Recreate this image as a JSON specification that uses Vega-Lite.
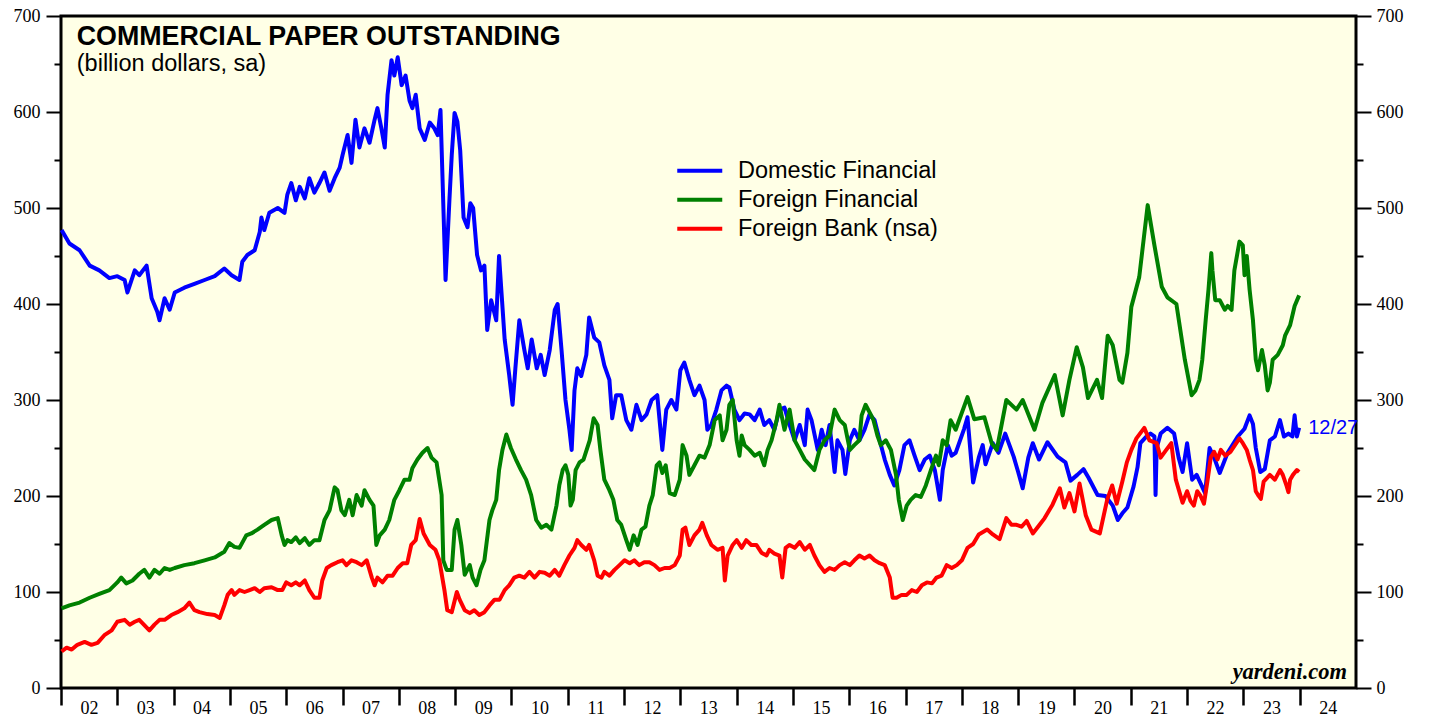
{
"$schema": "https://vega.github.io/schema/vega-lite/v6.json",
"width": 1295, "height": 672,
"autosize": {"type": "none"},
"padding": {"left": 61, "top": 16, "right": 73, "bottom": 29},
"background": "#FFFFFF",
"config": {
  "view": {"fill": "#FFFFE6", "stroke": "#000000", "strokeWidth": 3},
  "axis": {"grid": false, "domain": false, "title": null, "labelFont": "Liberation Serif", "labelFontSize": 18, "labelColor": "#000000", "tickColor": "#000000"}
},
"datasets": {
"notes": [
{"k":"t","t":2002.28,"v":670,"txt":"COMMERCIAL PAPER OUTSTANDING"},
{"k":"s","t":2002.28,"v":642.5,"txt":"(billion dollars, sa)"},
{"k":"d","t":2024.15,"v":271,"txt":"12/27"},
{"k":"y","t":2024.84,"v":9.4,"txt":"yardeni.com"}
],
"cp": [
{"t":2002.01,"s":"D","v":477},{"t":2002.15,"s":"D","v":463},{"t":2002.33,"s":"D","v":456},{"t":2002.51,"s":"D","v":440},{"t":2002.68,"s":"D","v":435},{"t":2002.86,"s":"D","v":427},{"t":2003.00,"s":"D","v":429},{"t":2003.13,"s":"D","v":425},{"t":2003.18,"s":"D","v":412},{"t":2003.31,"s":"D","v":435},{"t":2003.39,"s":"D","v":430},{"t":2003.52,"s":"D","v":440},{"t":2003.61,"s":"D","v":406},{"t":2003.71,"s":"D","v":392},{"t":2003.75,"s":"D","v":383},{"t":2003.84,"s":"D","v":406},{"t":2003.93,"s":"D","v":394},{"t":2004.02,"s":"D","v":412},{"t":2004.19,"s":"D","v":417},{"t":2004.37,"s":"D","v":421},{"t":2004.55,"s":"D","v":425},{"t":2004.73,"s":"D","v":429},{"t":2004.90,"s":"D","v":437},{"t":2005.03,"s":"D","v":430},{"t":2005.17,"s":"D","v":425},{"t":2005.22,"s":"D","v":444},{"t":2005.31,"s":"D","v":451},{"t":2005.44,"s":"D","v":456},{"t":2005.53,"s":"D","v":475},{"t":2005.56,"s":"D","v":490},{"t":2005.61,"s":"D","v":477},{"t":2005.70,"s":"D","v":495},{"t":2005.85,"s":"D","v":500},{"t":2005.97,"s":"D","v":495},{"t":2006.02,"s":"D","v":514},{"t":2006.09,"s":"D","v":526},{"t":2006.17,"s":"D","v":508},{"t":2006.24,"s":"D","v":522},{"t":2006.33,"s":"D","v":510},{"t":2006.41,"s":"D","v":531},{"t":2006.50,"s":"D","v":516},{"t":2006.59,"s":"D","v":526},{"t":2006.68,"s":"D","v":537},{"t":2006.77,"s":"D","v":518},{"t":2006.86,"s":"D","v":531},{"t":2006.95,"s":"D","v":542},{"t":2007.00,"s":"D","v":555},{"t":2007.09,"s":"D","v":576},{"t":2007.16,"s":"D","v":547},{"t":2007.23,"s":"D","v":592},{"t":2007.30,"s":"D","v":563},{"t":2007.39,"s":"D","v":583},{"t":2007.48,"s":"D","v":568},{"t":2007.57,"s":"D","v":592},{"t":2007.62,"s":"D","v":604},{"t":2007.69,"s":"D","v":583},{"t":2007.75,"s":"D","v":563},{"t":2007.80,"s":"D","v":618},{"t":2007.87,"s":"D","v":654},{"t":2007.92,"s":"D","v":638},{"t":2007.98,"s":"D","v":657},{"t":2008.05,"s":"D","v":628},{"t":2008.12,"s":"D","v":638},{"t":2008.19,"s":"D","v":612},{"t":2008.24,"s":"D","v":604},{"t":2008.30,"s":"D","v":618},{"t":2008.37,"s":"D","v":583},{"t":2008.46,"s":"D","v":571},{"t":2008.55,"s":"D","v":589},{"t":2008.63,"s":"D","v":583},{"t":2008.69,"s":"D","v":576},{"t":2008.74,"s":"D","v":602},{"t":2008.83,"s":"D","v":425},{"t":2008.90,"s":"D","v":510},{"t":2008.94,"s":"D","v":555},{"t":2008.99,"s":"D","v":599},{"t":2009.04,"s":"D","v":590},{"t":2009.09,"s":"D","v":560},{"t":2009.15,"s":"D","v":490},{"t":2009.22,"s":"D","v":480},{"t":2009.27,"s":"D","v":505},{"t":2009.32,"s":"D","v":500},{"t":2009.39,"s":"D","v":451},{"t":2009.46,"s":"D","v":435},{"t":2009.52,"s":"D","v":440},{"t":2009.57,"s":"D","v":373},{"t":2009.64,"s":"D","v":404},{"t":2009.73,"s":"D","v":383},{"t":2009.78,"s":"D","v":450},{"t":2009.82,"s":"D","v":415},{"t":2009.88,"s":"D","v":363},{"t":2009.96,"s":"D","v":326},{"t":2010.02,"s":"D","v":295},{"t":2010.07,"s":"D","v":333},{"t":2010.14,"s":"D","v":383},{"t":2010.23,"s":"D","v":352},{"t":2010.29,"s":"D","v":333},{"t":2010.36,"s":"D","v":363},{"t":2010.45,"s":"D","v":333},{"t":2010.52,"s":"D","v":347},{"t":2010.59,"s":"D","v":326},{"t":2010.68,"s":"D","v":352},{"t":2010.77,"s":"D","v":394},{"t":2010.82,"s":"D","v":400},{"t":2010.89,"s":"D","v":352},{"t":2010.96,"s":"D","v":300},{"t":2011.03,"s":"D","v":269},{"t":2011.07,"s":"D","v":248},{"t":2011.12,"s":"D","v":310},{"t":2011.17,"s":"D","v":333},{"t":2011.24,"s":"D","v":325},{"t":2011.33,"s":"D","v":347},{"t":2011.38,"s":"D","v":386},{"t":2011.47,"s":"D","v":365},{"t":2011.56,"s":"D","v":360},{"t":2011.65,"s":"D","v":336},{"t":2011.74,"s":"D","v":321},{"t":2011.79,"s":"D","v":281},{"t":2011.86,"s":"D","v":305},{"t":2011.95,"s":"D","v":305},{"t":2012.04,"s":"D","v":279},{"t":2012.13,"s":"D","v":269},{"t":2012.22,"s":"D","v":295},{"t":2012.31,"s":"D","v":279},{"t":2012.40,"s":"D","v":285},{"t":2012.49,"s":"D","v":300},{"t":2012.59,"s":"D","v":305},{"t":2012.68,"s":"D","v":248},{"t":2012.75,"s":"D","v":290},{"t":2012.84,"s":"D","v":300},{"t":2012.93,"s":"D","v":290},{"t":2013.00,"s":"D","v":331},{"t":2013.07,"s":"D","v":339},{"t":2013.16,"s":"D","v":321},{"t":2013.25,"s":"D","v":305},{"t":2013.34,"s":"D","v":315},{"t":2013.43,"s":"D","v":300},{"t":2013.48,"s":"D","v":269},{"t":2013.55,"s":"D","v":274},{"t":2013.64,"s":"D","v":290},{"t":2013.73,"s":"D","v":310},{"t":2013.82,"s":"D","v":315},{"t":2013.87,"s":"D","v":313},{"t":2013.96,"s":"D","v":290},{"t":2014.05,"s":"D","v":279},{"t":2014.14,"s":"D","v":286},{"t":2014.23,"s":"D","v":285},{"t":2014.32,"s":"D","v":279},{"t":2014.41,"s":"D","v":290},{"t":2014.49,"s":"D","v":274},{"t":2014.58,"s":"D","v":279},{"t":2014.67,"s":"D","v":269},{"t":2014.76,"s":"D","v":290},{"t":2014.85,"s":"D","v":292},{"t":2014.94,"s":"D","v":274},{"t":2015.03,"s":"D","v":258},{"t":2015.12,"s":"D","v":274},{"t":2015.21,"s":"D","v":253},{"t":2015.26,"s":"D","v":290},{"t":2015.33,"s":"D","v":279},{"t":2015.44,"s":"D","v":248},{"t":2015.51,"s":"D","v":269},{"t":2015.58,"s":"D","v":253},{"t":2015.65,"s":"D","v":274},{"t":2015.74,"s":"D","v":225},{"t":2015.79,"s":"D","v":258},{"t":2015.88,"s":"D","v":248},{"t":2015.93,"s":"D","v":223},{"t":2016.01,"s":"D","v":258},{"t":2016.09,"s":"D","v":269},{"t":2016.18,"s":"D","v":258},{"t":2016.27,"s":"D","v":269},{"t":2016.36,"s":"D","v":285},{"t":2016.45,"s":"D","v":279},{"t":2016.54,"s":"D","v":258},{"t":2016.63,"s":"D","v":238},{"t":2016.72,"s":"D","v":222},{"t":2016.80,"s":"D","v":211},{"t":2016.89,"s":"D","v":227},{"t":2016.98,"s":"D","v":253},{"t":2017.07,"s":"D","v":258},{"t":2017.16,"s":"D","v":242},{"t":2017.25,"s":"D","v":227},{"t":2017.34,"s":"D","v":238},{"t":2017.43,"s":"D","v":242},{"t":2017.52,"s":"D","v":227},{"t":2017.61,"s":"D","v":196},{"t":2017.66,"s":"D","v":227},{"t":2017.75,"s":"D","v":253},{"t":2017.82,"s":"D","v":242},{"t":2017.89,"s":"D","v":245},{"t":2018.04,"s":"D","v":270},{"t":2018.10,"s":"D","v":282},{"t":2018.20,"s":"D","v":214},{"t":2018.30,"s":"D","v":240},{"t":2018.37,"s":"D","v":253},{"t":2018.42,"s":"D","v":233},{"t":2018.55,"s":"D","v":255},{"t":2018.65,"s":"D","v":245},{"t":2018.77,"s":"D","v":265},{"t":2018.92,"s":"D","v":241},{"t":2019.00,"s":"D","v":225},{"t":2019.08,"s":"D","v":208},{"t":2019.18,"s":"D","v":240},{"t":2019.26,"s":"D","v":255},{"t":2019.37,"s":"D","v":238},{"t":2019.52,"s":"D","v":256},{"t":2019.70,"s":"D","v":241},{"t":2019.84,"s":"D","v":235},{"t":2019.93,"s":"D","v":216},{"t":2020.05,"s":"D","v":222},{"t":2020.16,"s":"D","v":228},{"t":2020.25,"s":"D","v":219},{"t":2020.41,"s":"D","v":201},{"t":2020.55,"s":"D","v":200},{"t":2020.68,"s":"D","v":190},{"t":2020.77,"s":"D","v":175},{"t":2020.85,"s":"D","v":182},{"t":2020.94,"s":"D","v":188},{"t":2021.05,"s":"D","v":210},{"t":2021.12,"s":"D","v":230},{"t":2021.17,"s":"D","v":255},{"t":2021.28,"s":"D","v":262},{"t":2021.35,"s":"D","v":265},{"t":2021.42,"s":"D","v":262},{"t":2021.44,"s":"D","v":201},{"t":2021.46,"s":"D","v":250},{"t":2021.53,"s":"D","v":265},{"t":2021.65,"s":"D","v":271},{"t":2021.77,"s":"D","v":265},{"t":2021.85,"s":"D","v":240},{"t":2021.92,"s":"D","v":225},{"t":2022.00,"s":"D","v":255},{"t":2022.09,"s":"D","v":217},{"t":2022.17,"s":"D","v":222},{"t":2022.32,"s":"D","v":203},{"t":2022.40,"s":"D","v":250},{"t":2022.48,"s":"D","v":240},{"t":2022.58,"s":"D","v":224},{"t":2022.72,"s":"D","v":245},{"t":2022.90,"s":"D","v":262},{"t":2023.02,"s":"D","v":270},{"t":2023.11,"s":"D","v":284},{"t":2023.17,"s":"D","v":275},{"t":2023.22,"s":"D","v":250},{"t":2023.30,"s":"D","v":225},{"t":2023.38,"s":"D","v":228},{"t":2023.47,"s":"D","v":258},{"t":2023.56,"s":"D","v":262},{"t":2023.65,"s":"D","v":279},{"t":2023.72,"s":"D","v":262},{"t":2023.80,"s":"D","v":265},{"t":2023.87,"s":"D","v":262},{"t":2023.91,"s":"D","v":284},{"t":2023.95,"s":"D","v":262},{"t":2023.99,"s":"D","v":271},
{"t":2002.01,"s":"F","v":83},{"t":2002.15,"s":"F","v":86},{"t":2002.33,"s":"F","v":89},{"t":2002.51,"s":"F","v":94},{"t":2002.68,"s":"F","v":98},{"t":2002.86,"s":"F","v":102},{"t":2003.00,"s":"F","v":110},{"t":2003.07,"s":"F","v":115},{"t":2003.16,"s":"F","v":109},{"t":2003.27,"s":"F","v":112},{"t":2003.39,"s":"F","v":119},{"t":2003.48,"s":"F","v":123},{"t":2003.57,"s":"F","v":115},{"t":2003.66,"s":"F","v":123},{"t":2003.75,"s":"F","v":119},{"t":2003.84,"s":"F","v":125},{"t":2003.93,"s":"F","v":123},{"t":2004.02,"s":"F","v":125},{"t":2004.19,"s":"F","v":128},{"t":2004.37,"s":"F","v":130},{"t":2004.55,"s":"F","v":133},{"t":2004.73,"s":"F","v":136},{"t":2004.90,"s":"F","v":142},{"t":2004.99,"s":"F","v":151},{"t":2005.08,"s":"F","v":147},{"t":2005.17,"s":"F","v":146},{"t":2005.29,"s":"F","v":159},{"t":2005.38,"s":"F","v":161},{"t":2005.49,"s":"F","v":165},{"t":2005.61,"s":"F","v":170},{"t":2005.74,"s":"F","v":175},{"t":2005.85,"s":"F","v":177},{"t":2005.92,"s":"F","v":159},{"t":2005.97,"s":"F","v":149},{"t":2006.02,"s":"F","v":154},{"t":2006.09,"s":"F","v":152},{"t":2006.17,"s":"F","v":157},{"t":2006.24,"s":"F","v":151},{"t":2006.33,"s":"F","v":156},{"t":2006.41,"s":"F","v":149},{"t":2006.50,"s":"F","v":154},{"t":2006.59,"s":"F","v":154},{"t":2006.68,"s":"F","v":175},{"t":2006.77,"s":"F","v":185},{"t":2006.86,"s":"F","v":209},{"t":2006.91,"s":"F","v":206},{"t":2006.98,"s":"F","v":185},{"t":2007.04,"s":"F","v":180},{"t":2007.12,"s":"F","v":196},{"t":2007.18,"s":"F","v":180},{"t":2007.25,"s":"F","v":201},{"t":2007.34,"s":"F","v":190},{"t":2007.39,"s":"F","v":206},{"t":2007.48,"s":"F","v":196},{"t":2007.55,"s":"F","v":190},{"t":2007.60,"s":"F","v":149},{"t":2007.66,"s":"F","v":159},{"t":2007.75,"s":"F","v":165},{"t":2007.83,"s":"F","v":175},{"t":2007.92,"s":"F","v":196},{"t":2008.01,"s":"F","v":206},{"t":2008.10,"s":"F","v":217},{"t":2008.19,"s":"F","v":217},{"t":2008.24,"s":"F","v":229},{"t":2008.33,"s":"F","v":238},{"t":2008.42,"s":"F","v":245},{"t":2008.51,"s":"F","v":250},{"t":2008.58,"s":"F","v":240},{"t":2008.67,"s":"F","v":235},{"t":2008.76,"s":"F","v":201},{"t":2008.79,"s":"F","v":133},{"t":2008.85,"s":"F","v":123},{"t":2008.94,"s":"F","v":123},{"t":2008.99,"s":"F","v":165},{"t":2009.04,"s":"F","v":175},{"t":2009.11,"s":"F","v":149},{"t":2009.17,"s":"F","v":118},{"t":2009.26,"s":"F","v":128},{"t":2009.31,"s":"F","v":115},{"t":2009.38,"s":"F","v":107},{"t":2009.45,"s":"F","v":123},{"t":2009.52,"s":"F","v":133},{"t":2009.61,"s":"F","v":175},{"t":2009.66,"s":"F","v":185},{"t":2009.73,"s":"F","v":196},{"t":2009.78,"s":"F","v":227},{"t":2009.84,"s":"F","v":248},{"t":2009.91,"s":"F","v":264},{"t":2009.99,"s":"F","v":250},{"t":2010.08,"s":"F","v":238},{"t":2010.17,"s":"F","v":227},{"t":2010.26,"s":"F","v":217},{"t":2010.35,"s":"F","v":201},{"t":2010.44,"s":"F","v":175},{"t":2010.53,"s":"F","v":167},{"t":2010.62,"s":"F","v":170},{"t":2010.71,"s":"F","v":165},{"t":2010.80,"s":"F","v":190},{"t":2010.85,"s":"F","v":211},{"t":2010.91,"s":"F","v":227},{"t":2010.96,"s":"F","v":232},{"t":2011.01,"s":"F","v":222},{"t":2011.05,"s":"F","v":190},{"t":2011.09,"s":"F","v":196},{"t":2011.14,"s":"F","v":227},{"t":2011.21,"s":"F","v":235},{"t":2011.28,"s":"F","v":238},{"t":2011.39,"s":"F","v":258},{"t":2011.46,"s":"F","v":281},{"t":2011.53,"s":"F","v":274},{"t":2011.58,"s":"F","v":248},{"t":2011.65,"s":"F","v":217},{"t":2011.74,"s":"F","v":206},{"t":2011.81,"s":"F","v":196},{"t":2011.88,"s":"F","v":175},{"t":2011.95,"s":"F","v":170},{"t":2012.04,"s":"F","v":154},{"t":2012.10,"s":"F","v":144},{"t":2012.17,"s":"F","v":159},{"t":2012.24,"s":"F","v":149},{"t":2012.31,"s":"F","v":165},{"t":2012.38,"s":"F","v":168},{"t":2012.45,"s":"F","v":190},{"t":2012.51,"s":"F","v":201},{"t":2012.58,"s":"F","v":232},{"t":2012.63,"s":"F","v":235},{"t":2012.68,"s":"F","v":224},{"t":2012.74,"s":"F","v":232},{"t":2012.81,"s":"F","v":203},{"t":2012.90,"s":"F","v":201},{"t":2012.99,"s":"F","v":217},{"t":2013.04,"s":"F","v":253},{"t":2013.11,"s":"F","v":242},{"t":2013.16,"s":"F","v":222},{"t":2013.25,"s":"F","v":232},{"t":2013.34,"s":"F","v":242},{"t":2013.43,"s":"F","v":240},{"t":2013.52,"s":"F","v":253},{"t":2013.61,"s":"F","v":279},{"t":2013.70,"s":"F","v":284},{"t":2013.75,"s":"F","v":258},{"t":2013.82,"s":"F","v":269},{"t":2013.87,"s":"F","v":295},{"t":2013.93,"s":"F","v":300},{"t":2014.00,"s":"F","v":258},{"t":2014.05,"s":"F","v":242},{"t":2014.09,"s":"F","v":263},{"t":2014.14,"s":"F","v":253},{"t":2014.23,"s":"F","v":248},{"t":2014.32,"s":"F","v":242},{"t":2014.41,"s":"F","v":245},{"t":2014.49,"s":"F","v":232},{"t":2014.55,"s":"F","v":248},{"t":2014.62,"s":"F","v":258},{"t":2014.71,"s":"F","v":279},{"t":2014.76,"s":"F","v":295},{"t":2014.85,"s":"F","v":269},{"t":2014.94,"s":"F","v":290},{"t":2015.03,"s":"F","v":258},{"t":2015.12,"s":"F","v":248},{"t":2015.21,"s":"F","v":238},{"t":2015.38,"s":"F","v":227},{"t":2015.47,"s":"F","v":248},{"t":2015.56,"s":"F","v":258},{"t":2015.65,"s":"F","v":263},{"t":2015.74,"s":"F","v":290},{"t":2015.83,"s":"F","v":279},{"t":2015.92,"s":"F","v":274},{"t":2016.01,"s":"F","v":248},{"t":2016.09,"s":"F","v":253},{"t":2016.18,"s":"F","v":258},{"t":2016.22,"s":"F","v":284},{"t":2016.29,"s":"F","v":295},{"t":2016.38,"s":"F","v":285},{"t":2016.43,"s":"F","v":279},{"t":2016.50,"s":"F","v":263},{"t":2016.56,"s":"F","v":253},{"t":2016.65,"s":"F","v":258},{"t":2016.74,"s":"F","v":248},{"t":2016.83,"s":"F","v":222},{"t":2016.88,"s":"F","v":196},{"t":2016.95,"s":"F","v":175},{"t":2017.02,"s":"F","v":190},{"t":2017.09,"s":"F","v":196},{"t":2017.18,"s":"F","v":201},{"t":2017.27,"s":"F","v":199},{"t":2017.36,"s":"F","v":211},{"t":2017.45,"s":"F","v":227},{"t":2017.54,"s":"F","v":242},{"t":2017.59,"s":"F","v":232},{"t":2017.66,"s":"F","v":258},{"t":2017.73,"s":"F","v":253},{"t":2017.80,"s":"F","v":279},{"t":2017.89,"s":"F","v":269},{"t":2018.10,"s":"F","v":303},{"t":2018.22,"s":"F","v":280},{"t":2018.40,"s":"F","v":282},{"t":2018.53,"s":"F","v":255},{"t":2018.62,"s":"F","v":248},{"t":2018.79,"s":"F","v":300},{"t":2018.97,"s":"F","v":290},{"t":2019.08,"s":"F","v":300},{"t":2019.29,"s":"F","v":269},{"t":2019.43,"s":"F","v":297},{"t":2019.65,"s":"F","v":326},{"t":2019.79,"s":"F","v":284},{"t":2019.91,"s":"F","v":321},{"t":2020.04,"s":"F","v":355},{"t":2020.15,"s":"F","v":334},{"t":2020.24,"s":"F","v":302},{"t":2020.40,"s":"F","v":321},{"t":2020.49,"s":"F","v":302},{"t":2020.59,"s":"F","v":367},{"t":2020.68,"s":"F","v":357},{"t":2020.80,"s":"F","v":321},{"t":2020.85,"s":"F","v":318},{"t":2020.94,"s":"F","v":349},{"t":2021.01,"s":"F","v":397},{"t":2021.15,"s":"F","v":428},{"t":2021.30,"s":"F","v":503},{"t":2021.42,"s":"F","v":461},{"t":2021.55,"s":"F","v":418},{"t":2021.65,"s":"F","v":407},{"t":2021.81,"s":"F","v":400},{"t":2021.96,"s":"F","v":342},{"t":2022.08,"s":"F","v":305},{"t":2022.15,"s":"F","v":310},{"t":2022.22,"s":"F","v":321},{"t":2022.27,"s":"F","v":342},{"t":2022.33,"s":"F","v":383},{"t":2022.38,"s":"F","v":415},{"t":2022.43,"s":"F","v":453},{"t":2022.45,"s":"F","v":435},{"t":2022.50,"s":"F","v":404},{"t":2022.58,"s":"F","v":404},{"t":2022.67,"s":"F","v":394},{"t":2022.72,"s":"F","v":398},{"t":2022.79,"s":"F","v":394},{"t":2022.84,"s":"F","v":435},{"t":2022.93,"s":"F","v":465},{"t":2022.99,"s":"F","v":461},{"t":2023.02,"s":"F","v":430},{"t":2023.06,"s":"F","v":450},{"t":2023.11,"s":"F","v":415},{"t":2023.17,"s":"F","v":383},{"t":2023.22,"s":"F","v":342},{"t":2023.26,"s":"F","v":331},{"t":2023.33,"s":"F","v":352},{"t":2023.38,"s":"F","v":336},{"t":2023.43,"s":"F","v":310},{"t":2023.47,"s":"F","v":318},{"t":2023.52,"s":"F","v":342},{"t":2023.61,"s":"F","v":347},{"t":2023.70,"s":"F","v":357},{"t":2023.74,"s":"F","v":367},{"t":2023.83,"s":"F","v":378},{"t":2023.91,"s":"F","v":398},{"t":2023.99,"s":"F","v":409},
{"t":2002.01,"s":"R","v":38},{"t":2002.10,"s":"R","v":42},{"t":2002.19,"s":"R","v":40},{"t":2002.29,"s":"R","v":45},{"t":2002.42,"s":"R","v":48},{"t":2002.54,"s":"R","v":45},{"t":2002.65,"s":"R","v":47},{"t":2002.77,"s":"R","v":55},{"t":2002.90,"s":"R","v":60},{"t":2003.00,"s":"R","v":69},{"t":2003.13,"s":"R","v":71},{"t":2003.22,"s":"R","v":66},{"t":2003.31,"s":"R","v":69},{"t":2003.39,"s":"R","v":71},{"t":2003.57,"s":"R","v":60},{"t":2003.66,"s":"R","v":66},{"t":2003.75,"s":"R","v":71},{"t":2003.84,"s":"R","v":71},{"t":2003.96,"s":"R","v":76},{"t":2004.07,"s":"R","v":79},{"t":2004.19,"s":"R","v":83},{"t":2004.28,"s":"R","v":89},{"t":2004.37,"s":"R","v":81},{"t":2004.46,"s":"R","v":79},{"t":2004.60,"s":"R","v":77},{"t":2004.73,"s":"R","v":76},{"t":2004.82,"s":"R","v":73},{"t":2004.90,"s":"R","v":86},{"t":2004.96,"s":"R","v":97},{"t":2005.03,"s":"R","v":102},{"t":2005.08,"s":"R","v":97},{"t":2005.17,"s":"R","v":102},{"t":2005.26,"s":"R","v":100},{"t":2005.35,"s":"R","v":102},{"t":2005.44,"s":"R","v":104},{"t":2005.53,"s":"R","v":100},{"t":2005.61,"s":"R","v":104},{"t":2005.74,"s":"R","v":105},{"t":2005.85,"s":"R","v":102},{"t":2005.93,"s":"R","v":102},{"t":2006.00,"s":"R","v":110},{"t":2006.09,"s":"R","v":107},{"t":2006.17,"s":"R","v":110},{"t":2006.24,"s":"R","v":107},{"t":2006.33,"s":"R","v":112},{"t":2006.41,"s":"R","v":102},{"t":2006.50,"s":"R","v":94},{"t":2006.59,"s":"R","v":94},{"t":2006.64,"s":"R","v":112},{"t":2006.72,"s":"R","v":125},{"t":2006.80,"s":"R","v":128},{"t":2006.91,"s":"R","v":131},{"t":2007.00,"s":"R","v":133},{"t":2007.07,"s":"R","v":128},{"t":2007.16,"s":"R","v":133},{"t":2007.25,"s":"R","v":131},{"t":2007.34,"s":"R","v":128},{"t":2007.43,"s":"R","v":133},{"t":2007.52,"s":"R","v":115},{"t":2007.57,"s":"R","v":107},{"t":2007.62,"s":"R","v":115},{"t":2007.71,"s":"R","v":110},{"t":2007.80,"s":"R","v":117},{"t":2007.89,"s":"R","v":117},{"t":2007.98,"s":"R","v":125},{"t":2008.07,"s":"R","v":130},{"t":2008.15,"s":"R","v":130},{"t":2008.22,"s":"R","v":149},{"t":2008.30,"s":"R","v":154},{"t":2008.37,"s":"R","v":176},{"t":2008.44,"s":"R","v":161},{"t":2008.55,"s":"R","v":149},{"t":2008.65,"s":"R","v":144},{"t":2008.72,"s":"R","v":133},{"t":2008.81,"s":"R","v":102},{"t":2008.86,"s":"R","v":81},{"t":2008.94,"s":"R","v":79},{"t":2009.03,"s":"R","v":100},{"t":2009.08,"s":"R","v":92},{"t":2009.17,"s":"R","v":81},{"t":2009.26,"s":"R","v":78},{"t":2009.34,"s":"R","v":81},{"t":2009.43,"s":"R","v":76},{"t":2009.52,"s":"R","v":79},{"t":2009.61,"s":"R","v":86},{"t":2009.70,"s":"R","v":92},{"t":2009.79,"s":"R","v":92},{"t":2009.88,"s":"R","v":102},{"t":2009.96,"s":"R","v":107},{"t":2010.05,"s":"R","v":115},{"t":2010.14,"s":"R","v":117},{"t":2010.23,"s":"R","v":115},{"t":2010.32,"s":"R","v":121},{"t":2010.41,"s":"R","v":115},{"t":2010.50,"s":"R","v":121},{"t":2010.59,"s":"R","v":120},{"t":2010.68,"s":"R","v":117},{"t":2010.77,"s":"R","v":123},{"t":2010.85,"s":"R","v":117},{"t":2010.94,"s":"R","v":128},{"t":2011.03,"s":"R","v":138},{"t":2011.12,"s":"R","v":146},{"t":2011.17,"s":"R","v":154},{"t":2011.24,"s":"R","v":149},{"t":2011.33,"s":"R","v":144},{"t":2011.38,"s":"R","v":149},{"t":2011.47,"s":"R","v":133},{"t":2011.53,"s":"R","v":117},{"t":2011.60,"s":"R","v":115},{"t":2011.65,"s":"R","v":121},{"t":2011.74,"s":"R","v":117},{"t":2011.83,"s":"R","v":123},{"t":2011.92,"s":"R","v":128},{"t":2012.01,"s":"R","v":133},{"t":2012.10,"s":"R","v":130},{"t":2012.18,"s":"R","v":133},{"t":2012.27,"s":"R","v":128},{"t":2012.36,"s":"R","v":131},{"t":2012.45,"s":"R","v":131},{"t":2012.54,"s":"R","v":128},{"t":2012.63,"s":"R","v":123},{"t":2012.72,"s":"R","v":125},{"t":2012.81,"s":"R","v":125},{"t":2012.90,"s":"R","v":128},{"t":2012.99,"s":"R","v":138},{"t":2013.04,"s":"R","v":165},{"t":2013.09,"s":"R","v":167},{"t":2013.16,"s":"R","v":149},{"t":2013.25,"s":"R","v":159},{"t":2013.34,"s":"R","v":165},{"t":2013.39,"s":"R","v":172},{"t":2013.47,"s":"R","v":159},{"t":2013.55,"s":"R","v":149},{"t":2013.66,"s":"R","v":144},{"t":2013.75,"s":"R","v":146},{"t":2013.79,"s":"R","v":112},{"t":2013.84,"s":"R","v":138},{"t":2013.93,"s":"R","v":149},{"t":2014.00,"s":"R","v":154},{"t":2014.09,"s":"R","v":146},{"t":2014.17,"s":"R","v":154},{"t":2014.26,"s":"R","v":149},{"t":2014.35,"s":"R","v":149},{"t":2014.44,"s":"R","v":141},{"t":2014.53,"s":"R","v":138},{"t":2014.58,"s":"R","v":144},{"t":2014.67,"s":"R","v":140},{"t":2014.76,"s":"R","v":138},{"t":2014.81,"s":"R","v":115},{"t":2014.87,"s":"R","v":146},{"t":2014.94,"s":"R","v":149},{"t":2015.03,"s":"R","v":146},{"t":2015.12,"s":"R","v":152},{"t":2015.21,"s":"R","v":144},{"t":2015.30,"s":"R","v":149},{"t":2015.38,"s":"R","v":138},{"t":2015.47,"s":"R","v":128},{"t":2015.56,"s":"R","v":121},{"t":2015.65,"s":"R","v":125},{"t":2015.74,"s":"R","v":123},{"t":2015.83,"s":"R","v":128},{"t":2015.92,"s":"R","v":131},{"t":2016.01,"s":"R","v":128},{"t":2016.09,"s":"R","v":133},{"t":2016.18,"s":"R","v":138},{"t":2016.27,"s":"R","v":135},{"t":2016.36,"s":"R","v":138},{"t":2016.45,"s":"R","v":133},{"t":2016.54,"s":"R","v":130},{"t":2016.63,"s":"R","v":128},{"t":2016.72,"s":"R","v":115},{"t":2016.77,"s":"R","v":94},{"t":2016.84,"s":"R","v":94},{"t":2016.93,"s":"R","v":97},{"t":2017.02,"s":"R","v":97},{"t":2017.11,"s":"R","v":102},{"t":2017.20,"s":"R","v":100},{"t":2017.29,"s":"R","v":107},{"t":2017.38,"s":"R","v":110},{"t":2017.47,"s":"R","v":109},{"t":2017.55,"s":"R","v":115},{"t":2017.64,"s":"R","v":117},{"t":2017.73,"s":"R","v":128},{"t":2017.82,"s":"R","v":125},{"t":2017.91,"s":"R","v":128},{"t":2018.00,"s":"R","v":133},{"t":2018.10,"s":"R","v":146},{"t":2018.20,"s":"R","v":150},{"t":2018.30,"s":"R","v":160},{"t":2018.45,"s":"R","v":165},{"t":2018.55,"s":"R","v":160},{"t":2018.67,"s":"R","v":155},{"t":2018.79,"s":"R","v":177},{"t":2018.88,"s":"R","v":170},{"t":2018.97,"s":"R","v":170},{"t":2019.06,"s":"R","v":168},{"t":2019.15,"s":"R","v":174},{"t":2019.26,"s":"R","v":161},{"t":2019.38,"s":"R","v":170},{"t":2019.47,"s":"R","v":177},{"t":2019.61,"s":"R","v":191},{"t":2019.74,"s":"R","v":208},{"t":2019.82,"s":"R","v":188},{"t":2019.91,"s":"R","v":203},{"t":2020.00,"s":"R","v":184},{"t":2020.09,"s":"R","v":213},{"t":2020.20,"s":"R","v":180},{"t":2020.30,"s":"R","v":165},{"t":2020.45,"s":"R","v":161},{"t":2020.58,"s":"R","v":196},{"t":2020.67,"s":"R","v":211},{"t":2020.75,"s":"R","v":192},{"t":2020.85,"s":"R","v":215},{"t":2020.93,"s":"R","v":235},{"t":2021.01,"s":"R","v":248},{"t":2021.10,"s":"R","v":260},{"t":2021.24,"s":"R","v":271},{"t":2021.33,"s":"R","v":258},{"t":2021.46,"s":"R","v":255},{"t":2021.53,"s":"R","v":240},{"t":2021.63,"s":"R","v":248},{"t":2021.72,"s":"R","v":255},{"t":2021.80,"s":"R","v":217},{"t":2021.92,"s":"R","v":193},{"t":2022.00,"s":"R","v":205},{"t":2022.06,"s":"R","v":195},{"t":2022.12,"s":"R","v":190},{"t":2022.18,"s":"R","v":205},{"t":2022.24,"s":"R","v":200},{"t":2022.30,"s":"R","v":192},{"t":2022.36,"s":"R","v":215},{"t":2022.42,"s":"R","v":240},{"t":2022.48,"s":"R","v":246},{"t":2022.54,"s":"R","v":238},{"t":2022.60,"s":"R","v":248},{"t":2022.68,"s":"R","v":242},{"t":2022.77,"s":"R","v":246},{"t":2022.85,"s":"R","v":253},{"t":2022.93,"s":"R","v":260},{"t":2022.99,"s":"R","v":255},{"t":2023.06,"s":"R","v":248},{"t":2023.11,"s":"R","v":238},{"t":2023.17,"s":"R","v":227},{"t":2023.22,"s":"R","v":205},{"t":2023.26,"s":"R","v":201},{"t":2023.31,"s":"R","v":197},{"t":2023.36,"s":"R","v":215},{"t":2023.47,"s":"R","v":222},{"t":2023.56,"s":"R","v":217},{"t":2023.65,"s":"R","v":227},{"t":2023.70,"s":"R","v":222},{"t":2023.77,"s":"R","v":210},{"t":2023.80,"s":"R","v":204},{"t":2023.83,"s":"R","v":217},{"t":2023.88,"s":"R","v":222},{"t":2023.95,"s":"R","v":227},{"t":2023.99,"s":"R","v":225}
]
},
"resolve": {"axis": {"y": "independent"}},
"encoding": {
  "x": {"field": "t", "type": "quantitative", "scale": {"domain": [2002, 2025], "nice": false, "zero": false},
    "axis": {"values": [2002,2003,2004,2005,2006,2007,2008,2009,2010,2011,2012,2013,2014,2015,2016,2017,2018,2019,2020,2021,2022,2023,2024],
        "format": "d", "labelExpr": "substring(datum.label, 2)", "tickSize": 17, "tickWidth": 2.5,
        "labelPadding": -6, "labelOffset": 28, "labelFlush": false, "labelOverlap": false}}
},
"layer": [
{
  "data": {"name": "cp"},
  "mark": {"type": "line", "strokeWidth": 4, "strokeJoin": "round"},
  "encoding": {
    "y": {"field": "v", "type": "quantitative",
      "scale": {"domain": [0, 700], "nice": false, "zero": true},
      "axis": {"orient": "left", "values": [0,50,100,150,200,250,300,350,400,450,500,550,600,650,700],
        "labelExpr": "datum.value % 100 == 0 ? datum.label : ''",
        "tickSize": {"condition": {"test": "datum.value % 100 == 0", "value": 15}, "value": 7},
        "tickWidth": 2, "labelPadding": 6}},
    "color": {"field": "s", "type": "nominal",
      "scale": {"domain": ["D", "F", "R"], "range": ["#0000FF", "#008000", "#FF0000"]},
      "legend": {"orient": "none", "legendX": 627, "legendY": 143, "title": null, "padding": 0,
        "symbolType": "M-2.5,0H2.5", "symbolSize": 324, "symbolStrokeWidth": 4,
        "labelFont": "Liberation Sans", "labelFontSize": 23.5, "labelColor": "#000000", "labelOffset": 26.5, "labelLimit": 500,
        "rowPadding": 4,
        "labelExpr": "datum.label == 'D' ? 'Domestic Financial' : datum.label == 'F' ? 'Foreign Financial' : 'Foreign Bank (nsa)'"}}
  }
},
{
  "data": {"name": "notes"},
  "transform": [{"filter": "datum.k == 'd'"}],
  "mark": {"type": "text", "align": "left", "baseline": "middle", "font": "Liberation Sans", "fontSize": 20, "color": "#0000FF"},
  "encoding": {
    "y": {"field": "v", "type": "quantitative", "scale": {"domain": [0, 700], "nice": false, "zero": true},
      "axis": {"orient": "right", "values": [0,50,100,150,200,250,300,350,400,450,500,550,600,650,700],
        "labelExpr": "datum.value % 100 == 0 ? datum.label : ''",
        "tickSize": {"condition": {"test": "datum.value % 100 == 0", "value": 15}, "value": 7},
        "tickWidth": 2, "labelPadding": 5}},
    "text": {"field": "txt"}
  }
},
{
  "data": {"name": "notes"},
  "transform": [{"filter": "datum.k == 't'"}],
  "mark": {"type": "text", "align": "left", "baseline": "alphabetic", "font": "Liberation Sans", "fontWeight": "bold", "fontSize": 26.8, "color": "#000000"},
  "encoding": {
    "y": {"field": "v", "type": "quantitative", "scale": {"domain": [0, 700], "nice": false, "zero": true}, "axis": null},
    "text": {"field": "txt"}
  }
},
{
  "data": {"name": "notes"},
  "transform": [{"filter": "datum.k == 's'"}],
  "mark": {"type": "text", "align": "left", "baseline": "alphabetic", "font": "Liberation Sans", "fontSize": 23.5, "color": "#000000"},
  "encoding": {
    "y": {"field": "v", "type": "quantitative", "scale": {"domain": [0, 700], "nice": false, "zero": true}, "axis": null},
    "text": {"field": "txt"}
  }
},
{
  "data": {"name": "notes"},
  "transform": [{"filter": "datum.k == 'y'"}],
  "mark": {"type": "text", "align": "right", "baseline": "alphabetic", "font": "Liberation Serif", "fontStyle": "italic", "fontWeight": "bold", "fontSize": 22.5, "color": "#000000"},
  "encoding": {
    "y": {"field": "v", "type": "quantitative", "scale": {"domain": [0, 700], "nice": false, "zero": true}, "axis": null},
    "text": {"field": "txt"}
  }
}
]
}
